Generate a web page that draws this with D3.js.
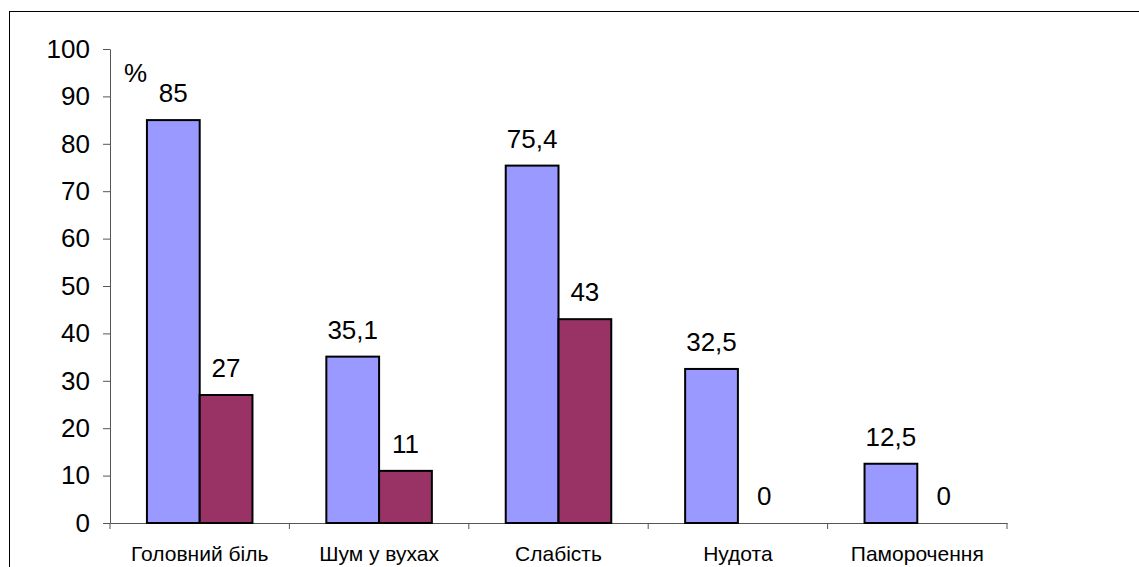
<!DOCTYPE html>
<html>
<head>
<meta charset="utf-8">
<script src="https://cdn.jsdelivr.net/npm/d3@7"></script>
<style>
  body { margin: 0; background: #fff; }
  text { font-family: "Liberation Sans", Arial, sans-serif; fill: #000; }
</style>
</head>
<body>
<div id="chart"></div>
<script>
// values
var categories = ["Головний біль", "Шум у вухах", "Слабість", "Нудота", "Паморочення"];
var seriesA = [85, 35.1, 75.4, 32.5, 12.5];
var seriesB = [27, 11, 43, 0, 0];
var yTicks = [0, 10, 20, 30, 40, 50, 60, 70, 80, 90, 100];
var colors = ["#9999ff", "#993366"];

var width = 1139, height = 567;
var margin = { left: 110, right: 132, top: 49, bottom: 44 };

var svg = d3.select("#chart").append("svg")
  .attr("width", width).attr("height", height);

// outer frame
svg.append("rect")
  .attr("x", 9.5).attr("y", 11.5)
  .attr("width", width + 10).attr("height", height + 10)
  .attr("fill", "none").attr("stroke", "#000").attr("stroke-width", 1);

var x = d3.scaleBand().domain(categories)
  .range([margin.left, width - margin.right]);
var y = d3.scaleLinear().domain([0, 100])
  .range([height - margin.bottom, margin.top]);

var inner = d3.scaleBand().domain([0, 1])
  .range([0, x.bandwidth()]).paddingInner(0).paddingOuter(0.7);

var rows = [];
categories.forEach(function (c, i) {
  rows.push({ cat: c, s: 0, v: seriesA[i] });
  rows.push({ cat: c, s: 1, v: seriesB[i] });
});

// y axis
var yAxis = svg.append("g")
  .attr("transform", "translate(" + margin.left + ",0)")
  .call(d3.axisLeft(y).tickValues(yTicks).tickSize(7).tickPadding(13).tickSizeOuter(0));
yAxis.selectAll("text").style("font-size", "26px");
yAxis.selectAll("line, path").attr("stroke", "#555");

// x axis
var xAxis = svg.append("g")
  .attr("transform", "translate(0," + y(0) + ")")
  .call(d3.axisBottom(x).tickSize(0).tickPadding(23));
xAxis.selectAll("text").style("font-size", "21px");
xAxis.select("path").attr("stroke", "#555");
// category separators
var edges = categories.map(function (c) { return x(c); }).concat([x.range()[1]]);
xAxis.selectAll(".sep").data(edges).enter().append("line")
  .attr("x1", function (d) { return d; }).attr("x2", function (d) { return d; })
  .attr("y1", 0).attr("y2", 6).attr("stroke", "#555");

// bars
svg.selectAll("rect.bar").data(rows.filter(function (d) { return d.v > 0; }))
  .enter().append("rect")
  .attr("class", "bar")
  .attr("x", function (d) { return x(d.cat) + inner(d.s); })
  .attr("width", inner.bandwidth())
  .attr("y", function (d) { return y(d.v); })
  .attr("height", function (d) { return y(0) - y(d.v); })
  .attr("fill", function (d) { return colors[d.s]; })
  .attr("stroke", "#000").attr("stroke-width", 2);

// value labels
svg.selectAll("text.val").data(rows).enter().append("text")
  .attr("class", "val")
  .attr("x", function (d) { return x(d.cat) + inner(d.s) + inner.bandwidth() / 2; })
  .attr("y", function (d) { return y(d.v) - 18; })
  .attr("text-anchor", "middle")
  .style("font-size", "26px")
  .text(function (d) { return String(d.v).replace(".", ","); });

svg.append("text").attr("x", 124).attr("y", 82)
  .style("font-size", "26px").text("%");
</script>
</body>
</html>
